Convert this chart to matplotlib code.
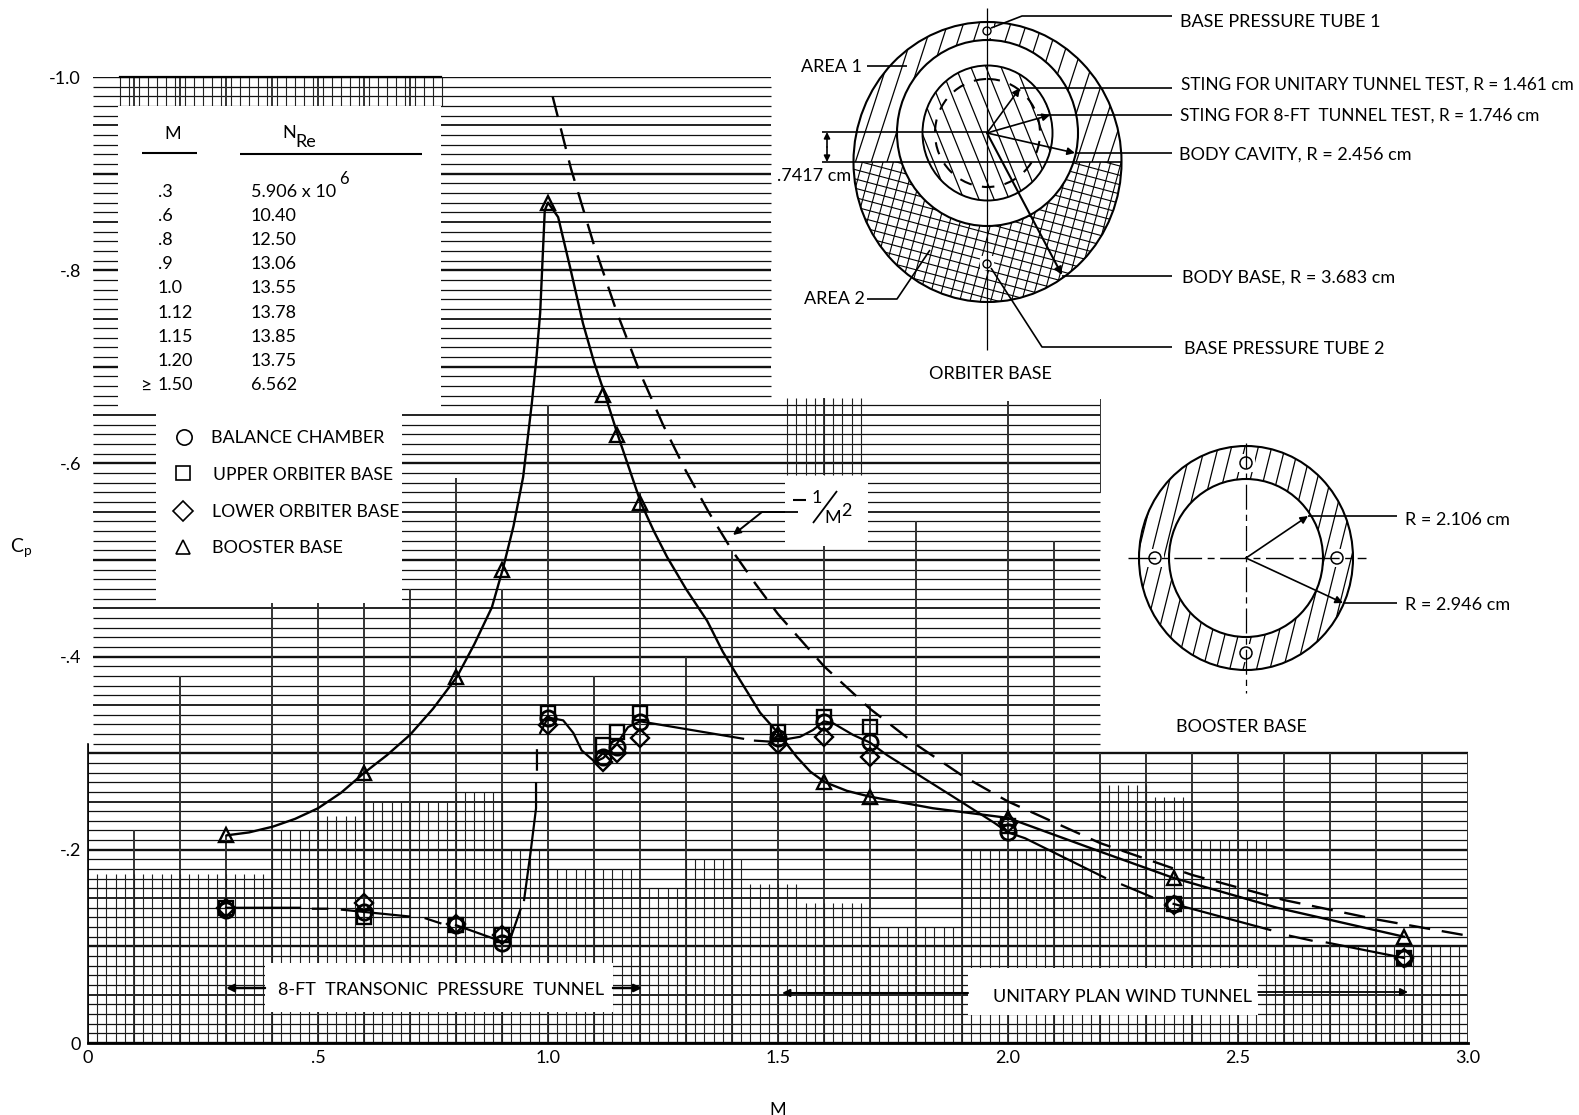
import numpy as np
import matplotlib
matplotlib.use("Agg")
import matplotlib.pyplot as plt
from matplotlib.collections import LineCollection
from matplotlib.patches import Ellipse, Polygon, Rectangle

plt.rcParams['font.family'] = ['Lato', 'DejaVu Sans']

nan = float('nan')

# test points
mach = [.3, .6, .8, .9, 1.0, 1.12, 1.15, 1.2, 1.5, 1.6, 1.7, 2.0, 2.36, 2.86]
balance_chamber = [-.138, -.136, -.122, -.104, -.336, -.296, -.306, -.332, -.316, -.332, -.312, -.218, -.144, -.088]
upper_orbiter = [-.14, -.13, -.122, -.112, -.342, -.308, -.322, -.342, -.322, -.337, -.327, -.225, -.144, -.088]
lower_orbiter = [-.14, -.145, -.123, -.112, -.329, -.291, -.30, -.316, -.31, -.317, -.296, -.228, -.143, -.088]
booster_base = [-.215, -.2795, -.379, -.49, -.87, -.671, -.629, -.559, -.32, -.27, -.255, -.233, -.171, -.11]

# faired curves
booster_curve_m = [.302, .35, .402, .45, .5, .55, .6, .65, .70, .75, .802, .84, .878, .902, .925, .946, .965, .975, .983,
                   .993, 1.0, 1.022, 1.048, 1.076, 1.1, 1.124, 1.152, 1.202, 1.23, 1.259, 1.30, 1.346, 1.38, 1.417,
                   1.461, 1.5, 1.541, 1.57, 1.602, 1.65, 1.70, 1.837, 2.0, 2.207, 2.359, 2.585, 2.861]
booster_curve_cp = [-.215, -.218, -.224, -.232, -.243, -.259, -.2795, -.298, -.319, -.346, -.379, -.413, -.451, -.491,
                    -.535, -.586, -.663, -.71, -.756, -.862, -.87, -.855, -.803, -.745, -.705, -.671, -.629, -.559,
                    -.53, -.503, -.47, -.437, -.405, -.376, -.342, -.321, -.296, -.281, -.27, -.261, -.255, -.243,
                    -.233, -.197, -.171, -.14, -.11]
balance_curve_m = [.3, .461, nan, .489, .52, nan, .552, .698, nan, .734, .766, nan, .8, .9, .916, .94, nan, .948,
                   .962, .974, .974, nan, .976, .976, nan, .983, 1.0, 1.033, 1.055, 1.073, 1.102, 1.12, 1.15, 1.174,
                   1.2, 1.424, nan, 1.45, 1.483, 1.5, 1.548, 1.576, 1.6, 1.62, 1.663, 1.70, 1.737, 1.874, 1.97, 2.0,
                   2.037, 2.211, nan, 2.248, 2.313, nan, 2.36, 2.57, nan, 2.613, 2.66, nan, 2.693, 2.861]
balance_curve_cp = [-.14, -.14, nan, -.139, -.139, nan, -.138, -.131, nan, -.129, -.124, nan, -.122, -.105, -.105,
                    -.138, nan, -.148, -.197, -.243, -.269, nan, -.283, -.303, nan, -.321, -.337, -.334, -.321,
                    -.303, -.291, -.295, -.31, -.327, -.333, -.315, nan, -.313, -.312, -.313, -.317, -.324, -.333,
                    -.331, -.319, -.311, -.298, -.257, -.228, -.218, -.212, -.171, nan, -.164, -.151, nan, -.144,
                    -.117, nan, -.111, -.106, nan, -.104, -.088]
newton_m = [1.01, 1.05, 1.1, 1.15, 1.2, 1.25, 1.3, 1.35, 1.4, 1.45, 1.5, 1.6, 1.7, 1.8, 1.9, 2.0, 2.2, 2.4, 2.6, 2.8, 3.0]
newton_cp = [-.98, -.905, -.826, -.756, -.694, -.64, -.592, -.549, -.51, -.476, -.444, -.39, -.346, -.309, -.277,
             -.25, -.207, -.174, -.148, -.128, -.111]

# table
table_m = ['.3', '.6', '.8', '.9', '1.0', '1.12', '1.15', '1.20', '1.50']
table_nre = ['5.906 x 10', '10.40', '12.50', '13.06', '13.55', '13.78', '13.85', '13.75', '6.562']
table_y = [192, 216, 240, 264, 288, 313, 337, 361, 385]

W, H = 1579, 1115
FS = 13
fig = plt.figure(figsize=(W / 100, H / 100), dpi=100)
rect = [88 / W, 1 - 1043 / H, 1380 / W, 966 / H]

paper = fig.add_axes(rect, zorder=0)
paper.set_xlim(0, 3)
paper.set_ylim(0, -1)
paper.axis('off')

pix = fig.add_axes([0, 0, 1, 1], zorder=1)
pix.set_xlim(0, W)
pix.set_ylim(H, 0)
pix.axis('off')
pix.patch.set_alpha(0)

ax = fig.add_axes(rect, zorder=2)
ax.patch.set_alpha(0)
ax.set_xlim(0, 3)
ax.set_ylim(0, -1)
for s in ax.spines.values():
    s.set_visible(False)

# graph paper, horizontal lines
segs, widths = [], []
for i in range(0, 101):
    cp = -i / 100
    if i <= 30:
        x0, x1 = 0, 3.0
    elif i <= 66:
        x0, x1 = .01, 2.2
    else:
        x0, x1 = .01, 1.485
    segs.append([(x0, cp), (x1, cp)])
    if i % 10 == 0:
        widths.append(1.7)
    elif i % 5 == 0:
        widths.append(1.3)
    else:
        widths.append(.9)
paper.add_collection(LineCollection(segs, colors='#111111', linewidths=widths))

# heavy verticals, each with the height where it starts
heavy_m = [0, .1, .2, .3, .4, .5, .6, .7, .8, .9, 1.0, 1.1, 1.2, 1.3, 1.4, 1.5, 1.6, 1.7, 1.8, 1.9, 2.0, 2.1, 2.2, 2.3,
           2.4, 2.5, 2.6, 2.7, 2.8, 2.9, 3.0]
heavy_top = [-.31, -.22, -.38, -.215, -.455, -.455, -.455, -.47, -.585, -.47, -.66, -.38, -.57, -.40, -.51, -.35, -.515,
             -.35, -.54, -.30, -.665, -.52, -.30, -.30, -.30, -.30, -.30, -.30, -.30, -.30, -.30]
segs = [[(m, t), (m, 0)] for m, t in zip(heavy_m, heavy_top)]
segs += [[(m, -1.0), (m, -.97)] for m in [.1, .2, .3, .4, .5, .6, .7]]
segs += [[(1.6, -.668), (1.6, -.588)]]
paper.add_collection(LineCollection(segs, colors='#333333', linewidths=1.4))
paper.plot([2.2, 2.2], [-.667, -.57], color='#333333', lw=.7)

# fine verticals
bands = [(.02, .4, -.175), (.4, .5, -.22), (.5, .6, -.235), (.6, .8, -.25), (.8, .92, -.26), (.92, 1.02, -.2),
         (1.02, 1.2, -.18), (1.2, 1.3, -.16), (1.3, 1.44, -.19), (1.44, 1.56, -.165), (1.56, 1.7, -.145),
         (1.7, 1.9, -.12), (1.9, 2.2, -.2), (2.2, 2.32, -.267), (2.32, 2.4, -.255), (2.4, 2.58, -.21),
         (2.58, 3.0, -.1)]
segs = []
for a, b, top in bands:
    for m in np.arange(a, b - .001, .02):
        segs.append([(m, top), (m, 0)])
for m in np.arange(.07, .78, .02):
    segs.append([(m, -1.0), (m, -.97)])
for m in np.arange(1.52, 1.70, .02):
    segs.append([(m, -.668), (m, -.588)])
paper.add_collection(LineCollection(segs, colors='#222222', linewidths=.8))
paper.plot([0, 3], [0, 0], color='k', lw=2, clip_on=False)
paper.plot([0, 0], [0, -.31], color='k', lw=1.2, clip_on=False)
paper.plot([.07, .767], [-1, -1], color='k', lw=1.6, clip_on=False)

# white masks
for x0, y0, x1, y1 in [(118, 106, 441, 410), (156, 405, 402, 603), (785, 477, 868, 545),
                       (265, 963, 613, 1012), (968, 968, 1258, 1015)]:
    pix.add_patch(Rectangle((x0, y0), x1 - x0, y1 - y0, fc='w', ec='none'))

# curves and symbols
ax.plot(booster_curve_m, booster_curve_cp, color='k', lw=1.7)
ax.plot(balance_curve_m, balance_curve_cp, color='k', lw=1.6)
ax.plot(newton_m, newton_cp, color='k', lw=1.7, dashes=(9, 5))
ax.plot(mach, upper_orbiter, 's', ms=10.5, mfc='none', mec='k', mew=1.7)
ax.plot(mach, lower_orbiter, 'D', ms=9.5, mfc='none', mec='k', mew=1.7)
ax.plot(mach, balance_chamber, 'o', ms=11, mfc='none', mec='k', mew=2)
ax.plot(mach, booster_base, '^', ms=10, mfc='none', mec='k', mew=1.7)

ax.set_xticks([0, .5, 1, 1.5, 2, 2.5, 3], ['0', '.5', '1.0', '1.5', '2.0', '2.5', '3.0'])
ax.set_yticks([0, -.2, -.4, -.6, -.8, -1], ['0', '-.2', '-.4', '-.6', '-.8', '-1.0'])
ax.tick_params(length=0, labelsize=FS, pad=5)
ax.set_xlabel('M', fontsize=FS, labelpad=26)
ax.set_ylabel('C$_{\\mathregular{p}}$', fontsize=FS + 1, rotation=0, labelpad=20)


def txt(x, y, s, size=FS, ha='left', **kw):
    pix.text(x, y, s, fontsize=size, ha=ha, va='center', color='k', **kw)


def line(xs, ys, lw=1.2, **kw):
    pix.plot(xs, ys, color='k', lw=lw, solid_capstyle='butt', **kw)


def arrow(x0, y0, x1, y1, lw=1.2, style='-|>', size=11):
    pix.annotate('', xy=(x1, y1), xytext=(x0, y0),
                 arrowprops=dict(arrowstyle=style, color='k', lw=lw, mutation_scale=size, shrinkA=0, shrinkB=0),
                 zorder=5)


def hatch(clip, angle, spacing, box, lw=.9, zorder=2):
    x0, y0, x1, y1 = box
    cx, cy = (x0 + x1) / 2, (y0 + y1) / 2
    L = max(x1 - x0, y1 - y0)
    a = np.radians(angle)
    d = np.array([np.cos(a), np.sin(a)])
    n = np.array([-d[1], d[0]])
    segs = []
    for t in np.arange(-L, L, spacing):
        c = np.array([cx, cy]) + n * t
        segs.append([c - d * L, c + d * L])
    lc = LineCollection(segs, colors='k', linewidths=lw, zorder=zorder)
    pix.add_collection(lc)
    lc.set_clip_path(clip)


def ell_poly(cx, cy, rx, ry, ymin=None, ymax=None):
    t = np.linspace(0, 2 * np.pi, 361)
    y = cy + ry * np.sin(t)
    if ymin is not None:
        y = np.maximum(y, ymin)
    if ymax is not None:
        y = np.minimum(y, ymax)
    p = Polygon(np.c_[cx + rx * np.cos(t), y], closed=True, fc='none', ec='none')
    pix.add_patch(p)
    return p


# table and key
txt(173, 134, 'M', ha='center')
txt(282, 133, 'N')
txt(295, 142, 'Re')
line([142, 197], [153, 153], lw=1.5)
line([240, 422], [154, 154], lw=1.5)
for y, m, n in zip(table_y, table_m, table_nre):
    txt(158, y, m)
    txt(251, y, n)
txt(140, 385, '≥', size=FS + 1)
txt(339, 179, '6', size=FS - 1)

pix.plot([184], [437], 'o', ms=11, mfc='none', mec='k', mew=1.2)
pix.plot([183], [473], 's', ms=10.5, mfc='none', mec='k', mew=1.2)
pix.plot([183], [511], 'D', ms=10, mfc='none', mec='k', mew=1.2)
pix.plot([183], [547], '^', ms=10, mfc='none', mec='k', mew=1.2)
txt(211, 438, 'BALANCE CHAMBER')
txt(213, 475, 'UPPER ORBITER BASE', size=12.6)
txt(212, 512, 'LOWER ORBITER BASE', size=12.6)
txt(212, 548, 'BOOSTER BASE')

# tunnel labels
txt(278, 990, '8-FT  TRANSONIC  PRESSURE  TUNNEL')
txt(993, 997, 'UNITARY PLAN WIND TUNNEL')
arrow(265, 988, 226, 988, lw=1.8)
arrow(613, 988, 642, 988, lw=1.8)
arrow(968, 993, 782, 993, lw=1.5)
arrow(1258, 992, 1408, 992, lw=1.3)

# -1/M^2 label
line([793, 806], [500, 500], lw=1.5)
txt(817, 498, '1', ha='center')
line([813, 837], [523, 491], lw=1.3)
txt(833, 518, 'M', ha='center')
txt(846, 511, '2', ha='center')
line([798, 762], [512, 512], lw=1.3)
arrow(762, 512, 733, 535, lw=1.4)

# orbiter base
pix.add_patch(Ellipse((987.5, 162), 268, 280, fc='w', ec='k', lw=1.5, zorder=1))
clip_up = ell_poly(987.5, 162, 134, 140, ymax=162)
clip_dn = ell_poly(987.5, 162, 134, 140, ymin=162)
hatch(clip_up, -72, 15, (853, 22, 1122, 162))
hatch(clip_dn, 15, 9, (853, 162, 1122, 302), lw=.8)
hatch(clip_dn, -75, 10, (853, 162, 1122, 302), lw=.8)
pix.add_patch(Ellipse((987.5, 133), 181, 186, fc='w', ec='k', lw=1.5, zorder=3))
pix.add_patch(Ellipse((987.5, 133), 130, 135, fc='w', ec='k', lw=1.4, zorder=3))
clip_in = Ellipse((987.5, 133), 130, 135, fc='none', ec='none', zorder=3)
pix.add_patch(clip_in)
hatch(clip_in, 68, 14, (923, 66, 1053, 201), zorder=3.1)
pix.add_patch(Ellipse((987.5, 133), 105, 108, fc='none', ec='k', lw=1.5, ls=(0, (6, 5)), zorder=3.2))
pix.add_patch(Rectangle((980, 24), 14, 14, fc='w', ec='none', zorder=3.3))
pix.add_patch(Rectangle((980, 256), 14, 14, fc='w', ec='none', zorder=3.3))
pix.add_patch(Ellipse((987, 31), 8, 8, fc='w', ec='k', lw=1, zorder=3.4))
pix.add_patch(Ellipse((987, 264), 8, 8, fc='w', ec='k', lw=1, zorder=3.4))
kw = dict(zorder=4)
line([987, 987], [8, 350], lw=.9, **kw)
line([822, 987], [132, 132], **kw)
line([822, 1122], [162, 162], **kw)
line([991, 1022, 1172], [28, 16, 16], **kw)
line([1020, 1172], [88, 88], **kw)
line([1037, 1172], [115, 115], **kw)
line([1075, 1172], [153, 153], **kw)
line([1062, 1172], [276, 276], **kw)
line([991, 1042, 1172], [268, 347, 347], **kw)
line([867, 907], [66, 66], **kw)
line([867, 897, 930], [299, 299, 250], **kw)
arrow(987, 133, 1020, 88)
arrow(987, 133, 1050, 115)
arrow(987, 133, 1075, 153)
arrow(987, 133, 1062, 275, lw=1.5)
arrow(827, 147, 827, 132, size=9)
arrow(827, 147, 827, 162, size=9)
txt(1180, 22, 'BASE PRESSURE TUBE 1')
txt(1181, 85, 'STING FOR UNITARY TUNNEL TEST, R = 1.461 cm', size=12.4)
txt(1180, 116, 'STING FOR 8-FT  TUNNEL TEST, R = 1.746 cm', size=12.4)
txt(1179, 155, 'BODY CAVITY, R = 2.456 cm')
txt(1182, 278, 'BODY BASE, R = 3.683 cm')
txt(1184, 349, 'BASE PRESSURE TUBE 2')
txt(990, 374, 'ORBITER BASE', ha='center')
txt(862, 67, 'AREA 1', ha='right')
txt(865, 299, 'AREA 2', ha='right')
txt(777, 176, '.7417 cm')

# booster base
pix.add_patch(Ellipse((1246, 558), 214, 224, fc='w', ec='k', lw=1.5, zorder=1))
clip_b = Ellipse((1246, 558), 214, 224, fc='none', ec='none')
pix.add_patch(clip_b)
hatch(clip_b, -76, 13, (1139, 447, 1353, 670))
pix.add_patch(Ellipse((1246, 558), 154, 158, fc='w', ec='k', lw=1.5, zorder=3))
for x, y in [(1246, 463), (1246, 653), (1155, 558), (1337, 558)]:
    pix.add_patch(Rectangle((x - 9, y - 9), 18, 18, fc='w', ec='none', zorder=3.3))
    pix.add_patch(Ellipse((x, y), 12, 12, fc='w', ec='k', lw=1.1, zorder=3.4))
line([1128, 1366], [558, 558], lw=1, ls=(0, (20, 4, 5, 4)), **kw)
line([1246, 1246], [443, 693], lw=.9, ls=(0, (20, 4, 5, 4)), **kw)
line([1308, 1397], [516, 516], **kw)
line([1343, 1397], [603, 603], **kw)
arrow(1246, 558, 1308, 516)
arrow(1246, 558, 1343, 603)
txt(1405, 520, 'R = 2.106 cm')
txt(1405, 605, 'R = 2.946 cm')
txt(1241, 727, 'BOOSTER BASE', ha='center')

fig.savefig('out.png', dpi=100)
